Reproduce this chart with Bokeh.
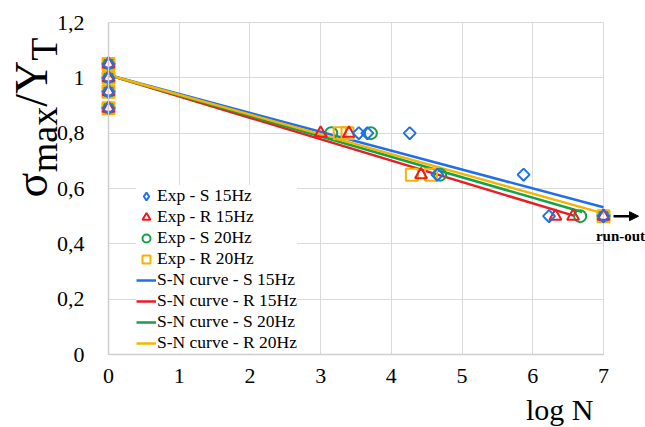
import math
from bokeh.plotting import figure
from bokeh.models import (Range1d, FixedTicker, CustomJSTickFormatter, Label, Arrow,
                          NormalHead, Legend, LegendItem, Grid)
from bokeh.embed import file_html
from bokeh.resources import INLINE

# ---------------- data ----------------
x_ticks = [0, 1, 2, 3, 4, 5, 6, 7]
y_ticks = [0, 0.2, 0.4, 0.6, 0.8, 1.0, 1.2]
y_tick_labels = ["0", "0,2", "0,4", "0,6", "0,8", "1", "1,2"]

s15_x = [0, 0, 0, 0, 3.54, 3.66, 4.26, 4.65, 5.87, 6.23, 7.0]
s15_y = [1.05, 1.0, 0.95, 0.89, 0.8, 0.8, 0.8, 0.65, 0.65, 0.5, 0.5]

r15_x = [0, 0, 0, 0, 3.0, 3.40, 4.42, 6.32, 6.57, 7.0]
r15_y = [1.05, 1.0, 0.95, 0.89, 0.8, 0.8, 0.65, 0.5, 0.5, 0.5]

s20_x = [0, 0, 0, 0, 3.15, 3.71, 4.69, 6.67, 7.0]
s20_y = [1.05, 1.0, 0.95, 0.89, 0.8, 0.8, 0.65, 0.5, 0.5]

r20_x = [0, 0, 0, 0, 3.27, 3.38, 4.29, 4.56, 7.0]
r20_y = [1.05, 1.0, 0.95, 0.89, 0.8, 0.8, 0.65, 0.65, 0.5]

sn_s15_x = [0, 7.0]
sn_s15_y = [1.01, 0.532]
sn_r15_x = [0, 6.6]
sn_r15_y = [1.01, 0.50]
sn_s20_x = [0, 6.7]
sn_s20_y = [1.01, 0.515]
sn_r20_x = [0, 7.0]
sn_r20_y = [1.01, 0.51]

labels = ["Exp - S 15Hz", "Exp - R 15Hz", "Exp - S 20Hz", "Exp - R 20Hz",
          "S-N curve - S 15Hz", "S-N curve - R 15Hz", "S-N curve - S 20Hz", "S-N curve - R 20Hz"]

BLUE = "#1f6fec"
RED = "#ea1c24"
GREEN = "#13a24a"
YELLOW = "#f4b400"
FONT = "Liberation Serif"

# ---------------- geometry (pixels of the 645x427 canvas) ----------------
W, H = 645, 427
AX_L, AX_R, AX_T, AX_B = 108, 603, 22, 354   # where x=0..7 / y=0..1.2 lie
BASE_K = 0.34   # label anchor correction (fraction of font size)

def dx(px):
    return (px - AX_L) * 7 / (AX_R - AX_L)

def dy(py):
    return (AX_B - py) * 1.2 / (AX_B - AX_T)

p = figure(width=W, height=H, output_backend="svg", toolbar_location=None,
           x_range=Range1d(dx(0), dx(W)), y_range=Range1d(dy(H), dy(0)),
           min_border=0)
p.outline_line_color = None
p.background_fill_color = "white"
p.border_fill_color = "white"

p.xaxis.ticker = FixedTicker(ticks=x_ticks)
p.yaxis.ticker = FixedTicker(ticks=y_ticks)
p.yaxis.formatter = CustomJSTickFormatter(args=dict(labels=y_tick_labels),
                                          code="return labels[Math.round(tick*5)];")
p.xaxis.fixed_location = 0
p.yaxis.fixed_location = 0
p.xaxis.bounds = (x_ticks[0], x_ticks[-1])
p.yaxis.bounds = (y_ticks[0], y_ticks[-1])
for ax in (p.xaxis, p.yaxis):
    ax.major_tick_line_color = None
    ax.minor_tick_line_color = None
    ax.axis_line_color = "#cfcfcf"
    ax.axis_line_width = 1.5
    ax.major_label_text_font = FONT
    ax.major_label_text_font_size = "22px"
    ax.major_label_text_color = "black"
p.yaxis.major_label_standoff = 18
p.xaxis.major_label_standoff = 8

if "cross_bounds" in Grid.properties():
    p.xgrid.bounds = (x_ticks[0], x_ticks[-1])
    p.xgrid.cross_bounds = (y_ticks[0], y_ticks[-1])
    p.ygrid.bounds = (y_ticks[0], y_ticks[-1])
    p.ygrid.cross_bounds = (x_ticks[0], x_ticks[-1])
    p.xgrid.grid_line_color = "#dadada"
    p.ygrid.grid_line_color = "#dadada"
else:
    p.xgrid.visible = False
    p.ygrid.visible = False
    p.segment(x0=x_ticks, y0=[y_ticks[0]] * len(x_ticks), x1=x_ticks,
              y1=[y_ticks[-1]] * len(x_ticks), line_color="#dadada", line_width=1)
    p.segment(x0=[x_ticks[0]] * len(y_ticks), y0=y_ticks, x1=[x_ticks[-1]] * len(y_ticks),
              y1=y_ticks, line_color="#dadada", line_width=1)

# S-N curves
l1 = p.line(sn_s15_x, sn_s15_y, line_color=BLUE, line_width=2.5)
l2 = p.line(sn_r15_x, sn_r15_y, line_color=RED, line_width=2.5)
l3 = p.line(sn_s20_x, sn_s20_y, line_color=GREEN, line_width=2.5)
l4 = p.line(sn_r20_x, sn_r20_y, line_color=YELLOW, line_width=2.5)

# experimental points
m3 = p.scatter(s20_x, s20_y, marker="circle", size=12, line_color=GREEN, line_width=2, fill_alpha=0)
m4 = p.scatter(r20_x, r20_y, marker="square", size=12, line_color=YELLOW, line_width=2, fill_alpha=0)
m2 = p.scatter(r15_x, r15_y, marker="triangle", size=12, line_color=RED, line_width=2, fill_alpha=0)
m1 = p.scatter(s15_x, s15_y, marker="square", angle=math.pi / 4, size=8.5, line_color=BLUE,
               line_width=2, fill_alpha=0)
# legend swatch for the diamond series (hidden renderer, same data)
m1_key = p.scatter(s15_x, s15_y, marker="diamond", size=10, line_color=BLUE, line_width=2,
                   fill_alpha=0, visible=False)

legend = Legend(items=[LegendItem(label=labels[0], renderers=[m1_key]),
                       LegendItem(label=labels[1], renderers=[m2]),
                       LegendItem(label=labels[2], renderers=[m3]),
                       LegendItem(label=labels[3], renderers=[m4]),
                       LegendItem(label=labels[4], renderers=[l1]),
                       LegendItem(label=labels[5], renderers=[l2]),
                       LegendItem(label=labels[6], renderers=[l3]),
                       LegendItem(label=labels[7], renderers=[l4])],
                location=(136, H - 353), padding=4, spacing=0, margin=0,
                glyph_width=20, glyph_height=20, label_height=20, label_standoff=1,
                label_text_font=FONT, label_text_font_size="17.5px", label_text_color="black",
                inactive_fill_alpha=0,
                border_line_color=None, background_fill_color="white", background_fill_alpha=1)
p.add_layout(legend)

# x axis title
p.add_layout(Label(x=dx(593), y=dy(419 - BASE_K * 30), text="log N", text_align="right",
                   text_baseline="alphabetic", text_font=FONT, text_font_size="30px",
                   text_color="black"))

# y axis title pieces (rotated), sigma_max / Y_T
M, S = 46, 38
pieces = [("σ", M, 0.55, 47), ("max", S, 1.722, 56), ("/", M, 0.278, 47),
          ("Y", M, 0.722, 47), ("T", S, 0.611, 56)]
ystart = 197
for txt, fs, wem, bx in pieces:
    p.add_layout(Label(x=dx(bx - BASE_K * fs), y=dy(ystart), text=txt, angle=90,
                       angle_units="deg", text_align="left", text_baseline="alphabetic",
                       text_font=FONT, text_font_size=f"{fs}px", text_color="black"))
    ystart -= fs * wem

# run-out arrow and text
p.add_layout(Arrow(x_start=dx(613), y_start=0.5, x_end=dx(638), y_end=0.5,
                   line_color="black", line_width=2.5,
                   end=NormalHead(size=9, fill_color="black", line_color="black")))
p.add_layout(Label(x=dx(620), y=dy(241 - BASE_K * 15), text="run-out", text_align="center",
                   text_baseline="alphabetic", text_font=FONT, text_font_size="15px",
                   text_font_style="bold", text_color="black"))

open("out.html", "w").write(file_html(p, INLINE))
